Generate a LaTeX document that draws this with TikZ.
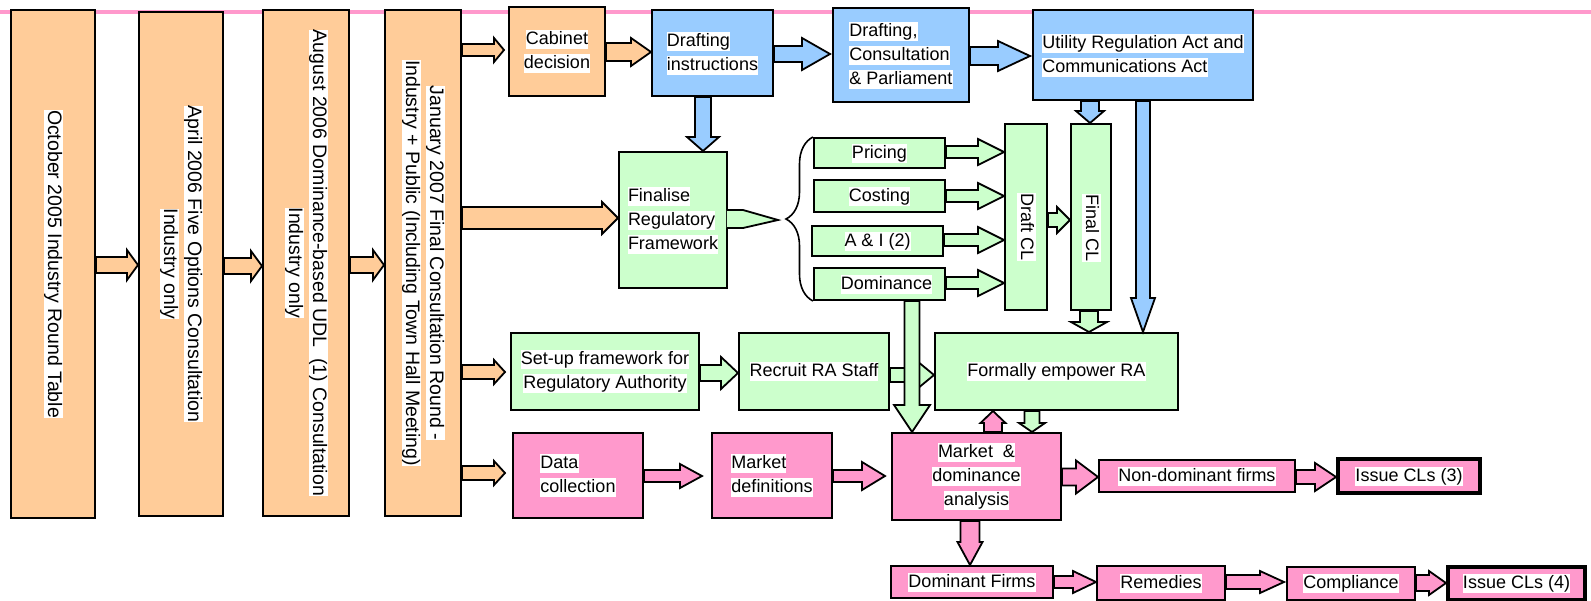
\documentclass[tikz,border=0pt]{standalone}
\usepackage{fontspec}
\setmainfont{Liberation Sans}
\usepackage{graphicx}
\usetikzlibrary{calc,decorations.pathreplacing}
\definecolor{peach}{HTML}{FFCC99}
\definecolor{skyb}{HTML}{99CCFF}
\definecolor{mint}{HTML}{CCFFCC}
\definecolor{rose}{HTML}{FF99CC}
\newcommand\hl[1]{{\setlength{\fboxsep}{0pt}\colorbox{white}{\rule[-4.5pt]{0pt}{19pt}#1}}}
\newcommand\blkarrow[6][]{%
  \path #2 coordinate (bA) #3 coordinate (bB);
  \path ($(bB)!#6pt!(bA)$) coordinate (bH);
  \draw[barrow,#1] ($(bA)!#4pt!90:(bB)$) -- ($(bH)!#4pt!90:(bB)$) -- ($(bH)!#5pt!90:(bB)$) -- (bB)
     -- ($(bH)!#5pt!-90:(bB)$) -- ($(bH)!#4pt!-90:(bB)$) -- ($(bA)!#4pt!-90:(bB)$) -- cycle;}
\tikzset{
  box/.style={draw, line width=2pt, inner sep=2pt, font=\fontsize{18}{24}\selectfont, align=center},
  ob/.style={box, fill=peach, font=\fontsize{19.5}{24}\selectfont},
  bb/.style={box, fill=skyb},
  gb/.style={box, fill=mint},
  pb/.style={box, fill=rose},
  barrow/.style={draw, line width=1.8pt, line join=miter},
  brc/.style={decorate, decoration={brace, amplitude=27pt}, line width=1.6pt},
}
\begin{document}
\begin{tikzpicture}[x=1pt,y=-1pt]
\useasboundingbox (0,0) rectangle (1591,600);
\draw[rose, line width=3.5pt] (0,12) -- (1591,12);

% timeline columns
\node[ob, minimum width=84pt, minimum height=508pt] (c1) at (53,264)
  {\rotatebox{-90}{\hl{October 2005 Industry Round Table}}};
\node[ob, minimum width=84pt, minimum height=504pt] (c2) at (181,264)
  {\rotatebox{-90}{\begin{tabular}{@{}c@{}}\hl{April 2006 Five Options Consultation}\\ \hl{Industry only}\end{tabular}}};
\node[ob, minimum width=86pt, minimum height=506pt] (c3) at (306,263)
  {\rotatebox{-90}{\begin{tabular}{@{}c@{}}\hl{August 2006 Dominance-based UDL~~(1) Consultation}\\ \hl{Industry only}\end{tabular}}};
\node[ob, minimum width=76pt, minimum height=506pt] (c4) at (423,263)
  {\rotatebox{-90}{\begin{tabular}{@{}c@{}}\hl{January 2007 Final Consultation Round -}\\ \hl{Industry + Public (Including Town Hall Meeting)}\end{tabular}}};

% top row
\node[ob, font=\fontsize{18}{24}\selectfont, minimum width=96pt, minimum height=89pt] (cab) at (557,51.5) {\hl{Cabinet}\\\hl{decision}};
\node[bb, minimum width=121pt, minimum height=86pt, align=left] (dins) at (712.5,53) {\hl{Drafting}\\\hl{instructions}};
\node[bb, minimum width=136pt, minimum height=94pt, align=left] (dcp) at (901,55) {\hl{Drafting,}\\\hl{Consultation}\\\hl{\& Parliament}};
\node[bb, minimum width=220pt, minimum height=90pt, align=left] (ura) at (1143,55) {\hl{Utility Regulation Act and}\\\hl{Communications Act}};

% framework row
\node[gb, minimum width=108pt, minimum height=136pt, align=left] (fin) at (673,220) {\hl{Finalise}\\\hl{Regulatory}\\\hl{Framework}};
\node[gb, minimum width=131pt, minimum height=30pt] (pri) at (879.5,153) {\hl{Pricing}};
\node[gb, minimum width=131pt, minimum height=32pt] (cos) at (879.5,196) {\hl{Costing}};
\node[gb, minimum width=131pt, minimum height=30pt] (ai) at (877.5,241) {\hl{A \& I (2)}};
\node[gb, minimum width=131pt, minimum height=32pt] (dom) at (879.5,284) {\hspace{14pt}\hl{Dominance}};
\node[gb, minimum width=42pt, minimum height=186pt] (dcl) at (1026,217) {\rotatebox{-90}{\hspace{20pt}\hl{Draft CL}}};
\node[gb, minimum width=40pt, minimum height=186pt] (fcl) at (1091,217) {\rotatebox{-90}{\hspace{22pt}\hl{Final CL}}};

% authority row
\node[gb, minimum width=188pt, minimum height=77pt] (set) at (605,371.5) {\hl{Set-up framework for}\\\hl{Regulatory Authority}};
\node[gb, minimum width=150pt, minimum height=77pt] (rec) at (814,371.5) {\hl{Recruit RA Staff}};
\node[gb, minimum width=243pt, minimum height=77pt] (emp) at (1056.5,371.5) {\hl{Formally empower RA}};

% market row
\node[pb, minimum width=130pt, minimum height=85pt, align=left] (dat) at (578,475.5) {\hl{Data}\\\hl{collection}};
\node[pb, minimum width=120pt, minimum height=85pt, align=left] (mkt) at (772,475.5) {\hl{Market}\\\hl{definitions}};
\node[pb, minimum width=169pt, minimum height=87pt] (mda) at (976.5,476.5) {\hl{Market~~\&}\\\hl{dominance}\\\hl{analysis}};
\node[pb, minimum width=196pt, minimum height=32pt] (non) at (1197,476) {\hl{Non-dominant firms}};
\node[pb, line width=4pt, minimum width=142pt, minimum height=34pt] (is3) at (1409,476) {\hl{Issue CLs (3)}};

% bottom row
\node[pb, minimum width=162pt, minimum height=32pt] (dfi) at (972,582) {\hl{Dominant Firms}};
\node[pb, minimum width=128pt, minimum height=34pt] (rem) at (1161,583) {\hl{Remedies}};
\node[pb, minimum width=128pt, minimum height=33pt] (cmp) at (1351,583.5) {\hl{Compliance}};
\node[pb, line width=4pt, minimum width=137pt, minimum height=33pt] (is4) at (1516.5,583.5) {\hl{Issue CLs (4)}};

% pointer from Finalise box
\path[fill=mint] ($(fin.east)+(-1.2,-10)$) -- ($(fin.east)+(15,-10)$) -- ($(fin.east)+(50,0)$)
   -- ($(fin.east)+(15,8)$) -- ($(fin.east)+(-1.2,8)$) -- cycle;
\draw[line width=1.8pt, line join=miter] ($(fin.east)+(-1,-10)$) -- ($(fin.east)+(15,-10)$) -- ($(fin.east)+(50,0)$)
   -- ($(fin.east)+(15,8)$) -- ($(fin.east)+(-1,8)$);
% brace
\draw[brc] (dom.south west) -- (pri.north west);

% orange arrows
\blkarrow[fill=peach]{(c1.east |- 0,265)}{(c2.west |- 0,265)}{8}{15}{11}
\blkarrow[fill=peach]{(c2.east |- 0,266)}{(c3.west |- 0,266)}{8}{15}{11}
\blkarrow[fill=peach]{(c3.east |- 0,265)}{(c4.west |- 0,265)}{8}{15}{11}
\blkarrow[fill=peach]{(c4.east |- 0,50)}{($(cab.west |- 0,50)+(-4,0)$)}{6}{12}{10}
\blkarrow[fill=peach]{(cab.east |- 0,52)}{(dins.west |- 0,52)}{9}{14}{20}
\blkarrow[fill=peach]{(c4.east |- 0,218)}{(fin.west |- 0,218)}{11}{16}{16}
\blkarrow[fill=peach]{(c4.east |- 0,372)}{($(set.west |- 0,372)+(-5,0)$)}{7}{12}{11}
\blkarrow[fill=peach]{(c4.east |- 0,473)}{($(dat.west |- 0,473)+(-7,0)$)}{7}{12}{11}

% blue arrows
\blkarrow[fill=skyb]{(dins.east |- 0,54)}{($(dcp.west |- 0,54)+(-2,0)$)}{8}{16}{28}
\blkarrow[fill=skyb]{(dcp.east |- 0,56)}{($(ura.west |- 0,56)+(-2,0)$)}{9}{15}{32}
\blkarrow[fill=skyb]{(703,0 |- dins.south)}{(703,0 |- fin.north)}{8}{16}{14}
\blkarrow[fill=skyb]{(1090,0 |- ura.south)}{(1090,0 |- fcl.north)}{9}{14}{12}
\blkarrow[fill=skyb]{(1143,0 |- ura.south)}{(1143,0 |- emp.north)}{7}{12}{34}

% green arrows
\foreach \n/\yy in {pri/152,cos/196,ai/240,dom/283}
  {\blkarrow[fill=mint]{(\n.east |- 0,\yy)}{(dcl.west |- 0,\yy)}{6}{13}{26}}
\blkarrow[fill=mint]{(dcl.east |- 0,220)}{(fcl.west |- 0,220)}{7}{13}{13}
\blkarrow[fill=mint]{(1089,0 |- fcl.south)}{(1089,0 |- emp.north)}{9}{18}{10}
\blkarrow[fill=mint]{(set.east |- 0,373)}{(rec.west |- 0,373)}{8}{16}{17}
\blkarrow[fill=mint]{(rec.east |- 0,375)}{(emp.west |- 0,375)}{7}{14}{17}
\blkarrow[fill=mint]{(912,0 |- dom.south)}{(912,0 |- mda.north)}{7.5}{18}{27}
\blkarrow[fill=mint]{(1032,0 |- emp.south)}{(1032,0 |- mda.north)}{7.5}{13}{9}

% pink arrows
\blkarrow[fill=rose]{(993,0 |- mda.north)}{(993,0 |- emp.south)}{9}{12.5}{12}
\blkarrow[fill=rose]{(dat.east |- 0,476)}{($(mkt.west |- 0,476)+(-9,0)$)}{6}{12}{22}
\blkarrow[fill=rose]{(mkt.east |- 0,476)}{($(mda.west |- 0,476)+(-6,0)$)}{6}{14}{23}
\blkarrow[fill=rose]{(mda.east |- 0,477)}{(non.west |- 0,477)}{8.5}{16.5}{22}
\blkarrow[fill=rose]{(non.east |- 0,477)}{(is3.west |- 0,477)}{7}{14}{21}
\blkarrow[fill=rose]{(970,0 |- mda.south)}{(970,0 |- dfi.north)}{9.5}{12.5}{23}
\blkarrow[fill=rose]{(dfi.east |- 0,582)}{(rem.west |- 0,582)}{6}{11}{23}
\blkarrow[fill=rose]{(rem.east |- 0,582)}{($(cmp.west |- 0,582)+(-2,0)$)}{7}{11}{24}
\blkarrow[fill=rose]{(cmp.east |- 0,583)}{(is4.west |- 0,583)}{8}{12}{17}
\end{tikzpicture}
\end{document}
